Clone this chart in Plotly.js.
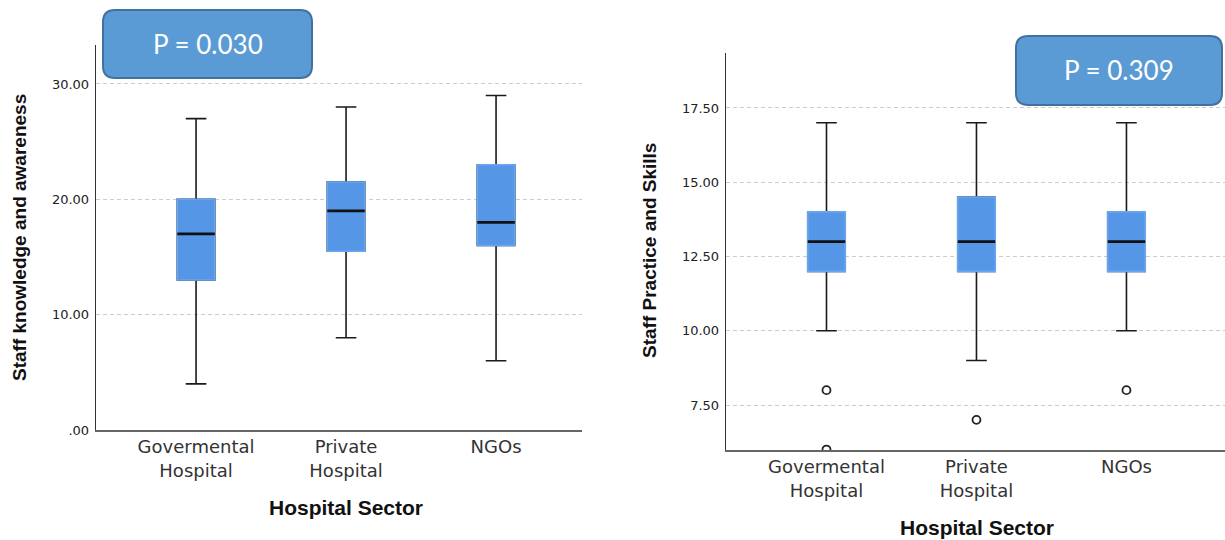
<!DOCTYPE html>
<html>
<head>
<meta charset="utf-8">
<script src="https://cdn.plot.ly/plotly-3.0.1.min.js"></script>
<style>html,body{margin:0;padding:0;background:#fff;}#chart{width:1225px;height:540px;}</style>
</head>
<body>
<div id="chart"></div>
<script>
// ---------- data ----------
const categories = ['Govermental<br>Hospital', 'Private<br>Hospital', 'NGOs'];

// Left panel: Staff knowledge and awareness
const knowLower  = [4, 8, 6];
const knowQ1     = [13, 15.5, 16];
const knowMedian = [17, 19, 18];
const knowQ3     = [20, 21.5, 23];
const knowUpper  = [27, 28, 29];
const knowTickVals = [0, 10, 20, 30];
const knowTickText = ['.00', '10.00', '20.00', '30.00'];
const knowP = 'P = 0.030';

// Right panel: Staff Practice and Skills
const pracLower  = [10, 9, 10];
const pracQ1     = [12, 12, 12];
const pracMedian = [13, 13, 13];
const pracQ3     = [14, 14.5, 14];
const pracUpper  = [17, 17, 17];
const pracOutlierX = ['Govermental<br>Hospital', 'Govermental<br>Hospital', 'Private<br>Hospital', 'NGOs'];
const pracOutlierY = [8, 6, 7, 8];
const pracTickVals = [7.5, 10, 12.5, 15, 17.5];
const pracTickText = ['7.50', '10.00', '12.50', '15.00', '17.50'];
const pracP = 'P = 0.309';

const xTitle = 'Hospital Sector';
const knowYTitle = 'Staff knowledge and awareness';
const pracYTitle = 'Staff Practice and Skills';

// ---------- styling ----------
const W = 1225, H = 540;
const BOX_FILL = '#5596e6';
const BOX_W = 0.25;

function boxTraces(xa, ya, lo, q1, med, q3, up) {
  const common = {type: 'box', x: categories, xaxis: xa, yaxis: ya, width: BOX_W,
                  boxpoints: false, showlegend: false, hoverinfo: 'skip'};
  return [
    Object.assign({}, common, {q1: q1, median: med, q3: q3, lowerfence: lo, upperfence: up,
      fillcolor: BOX_FILL, whiskerwidth: 0.55, line: {color: '#1a1a1a', width: 1.6}}),
    Object.assign({}, common, {q1: q1, median: med, q3: q3, lowerfence: q1, upperfence: q3,
      fillcolor: BOX_FILL, whiskerwidth: 0, line: {color: '#6aa6ee', width: 1.6}}),
    Object.assign({}, common, {q1: med, median: med, q3: med, lowerfence: med, upperfence: med,
      fillcolor: 'rgba(0,0,0,0)', whiskerwidth: 0, line: {color: '#111', width: 2.6}})
  ];
}

const traces = []
  .concat(boxTraces('x', 'y', knowLower, knowQ1, knowMedian, knowQ3, knowUpper))
  .concat(boxTraces('x2', 'y2', pracLower, pracQ1, pracMedian, pracQ3, pracUpper));

traces.push({
  type: 'scatter', mode: 'markers', x: pracOutlierX, y: pracOutlierY,
  xaxis: 'x2', yaxis: 'y2', showlegend: false, hoverinfo: 'skip',
  marker: {symbol: 'circle-open', size: 8, color: '#222', line: {width: 1.8, color: '#222'}}
});

// pixel helpers (paper = full figure since margins are 0)
const px = v => v / W;
const py = v => 1 - v / H;

function roundRect(x0, y0, x1, y1, r) {
  const X = v => px(v).toFixed(5), Y = v => py(v).toFixed(5);
  return 'M ' + X(x0 + r) + ',' + Y(y0) +
    ' L ' + X(x1 - r) + ',' + Y(y0) +
    ' Q ' + X(x1) + ',' + Y(y0) + ' ' + X(x1) + ',' + Y(y0 + r) +
    ' L ' + X(x1) + ',' + Y(y1 - r) +
    ' Q ' + X(x1) + ',' + Y(y1) + ' ' + X(x1 - r) + ',' + Y(y1) +
    ' L ' + X(x0 + r) + ',' + Y(y1) +
    ' Q ' + X(x0) + ',' + Y(y1) + ' ' + X(x0) + ',' + Y(y1 - r) +
    ' L ' + X(x0) + ',' + Y(y0 + r) +
    ' Q ' + X(x0) + ',' + Y(y0) + ' ' + X(x0 + r) + ',' + Y(y0) + ' Z';
}

const tickFont = {family: 'DejaVu Sans, sans-serif', size: 13, color: '#222'};
const catFont = {family: 'DejaVu Sans, sans-serif', size: 18, color: '#333'};
const xTitleFont = {family: 'Liberation Sans, Arial, sans-serif', size: 21, color: '#111', weight: 'bold'};
const yTitleFont = {family: 'Liberation Sans, Arial, sans-serif', size: 19, color: '#111', weight: 'bold'};
const pFont = {family: 'Lato, Open Sans, sans-serif', size: 26, color: '#fff'};

function xAxis(domain, range) {
  return {domain: domain, type: 'category', categoryorder: 'array', categoryarray: categories,
    range: range, showgrid: false, zeroline: false, showline: true, linecolor: '#666', linewidth: 1.5,
    ticks: '', tickfont: catFont, fixedrange: true};
}
function yAxis(domain, range, anchor, vals, text) {
  return {domain: domain, anchor: anchor, range: range, tickvals: vals, ticktext: text,
    showgrid: true, gridcolor: '#cccccc', gridwidth: 1, griddash: '4px,3px',
    zeroline: false, showline: true, linecolor: '#333', linewidth: 1.3, ticks: '',
    ticklabelstandoff: 3, tickfont: tickFont, fixedrange: true};
}

const layout = {
  width: W, height: H,
  margin: {l: 0, r: 0, t: 0, b: 0},
  paper_bgcolor: '#fff', plot_bgcolor: '#fff',
  boxmode: 'overlay',
  showlegend: false,
  xaxis: xAxis([px(96), px(582)], [-0.667, 2.573]),
  yaxis: yAxis([py(430), py(45)], [0, 33.38], 'x', knowTickVals, knowTickText),
  xaxis2: Object.assign(xAxis([px(726), 1], [-0.67, 2.657]), {anchor: 'y2'}),
  yaxis2: yAxis([py(450), py(53)], [5.985, 19.35], 'x2', pracTickVals, pracTickText),
  shapes: [
    {type: 'path', xref: 'paper', yref: 'paper', path: roundRect(103, 10, 312, 78, 12),
     fillcolor: '#5b9bd5', line: {color: '#41719c', width: 2}, layer: 'above'},
    {type: 'path', xref: 'paper', yref: 'paper', path: roundRect(1016, 36, 1222, 105, 12),
     fillcolor: '#5b9bd5', line: {color: '#41719c', width: 2}, layer: 'above'}
  ],
  annotations: [
    {xref: 'paper', yref: 'paper', x: px(207.5), y: py(44), text: knowP, showarrow: false,
     xanchor: 'center', yanchor: 'middle', font: pFont},
    {xref: 'paper', yref: 'paper', x: px(1119), y: py(70), text: pracP, showarrow: false,
     xanchor: 'center', yanchor: 'middle', font: pFont},
    {xref: 'paper', yref: 'paper', x: px(346), y: py(507), text: xTitle, showarrow: false,
     xanchor: 'center', yanchor: 'middle', font: xTitleFont},
    {xref: 'paper', yref: 'paper', x: px(977), y: py(527), text: xTitle, showarrow: false,
     xanchor: 'center', yanchor: 'middle', font: xTitleFont},
    {xref: 'paper', yref: 'paper', x: px(19), y: py(238), text: knowYTitle, showarrow: false,
     textangle: -90, xanchor: 'center', yanchor: 'middle', font: yTitleFont},
    {xref: 'paper', yref: 'paper', x: px(649), y: py(251), text: pracYTitle, showarrow: false,
     textangle: -90, xanchor: 'center', yanchor: 'middle', font: yTitleFont}
  ]
};

Plotly.newPlot('chart', traces, layout, {displayModeBar: false, staticPlot: true});
</script>
</body>
</html>
